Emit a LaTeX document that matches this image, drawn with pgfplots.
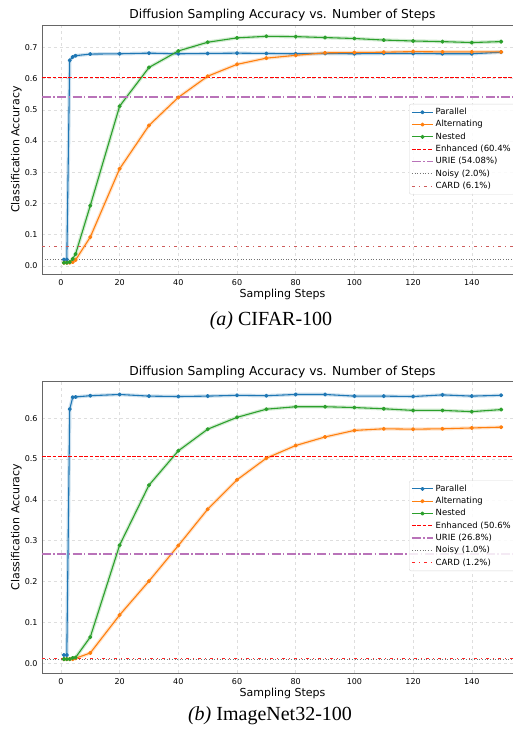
\documentclass[border=0pt]{standalone}
\usepackage{fontspec}
\setmainfont{DejaVu Sans}
\newfontfamily\capfont{Liberation Serif}
\usepackage{pgfplots}
\usepackage{pgfplotstable}
\pgfplotsset{compat=1.18}

\definecolor{tblue}{HTML}{1F77B4}
\definecolor{torange}{HTML}{FF7F0E}
\definecolor{tgreen}{HTML}{2CA02C}
\definecolor{urie}{HTML}{800080}
\definecolor{indred}{HTML}{CD5C5C}

% accuracy vs sampling steps
\pgfplotstableread{
x    par   alt   nes
1    0.020 0.010 0.010
2    0.020 0.010 0.010
3    0.659 0.010 0.012
4    0.670 0.012 0.022
5    0.674 0.019 0.038
10   0.679 0.092 0.193
20   0.680 0.311 0.512
30   0.682 0.450 0.636
40   0.680 0.540 0.689
50   0.681 0.608 0.717
60   0.682 0.646 0.731
70   0.681 0.666 0.736
80   0.680 0.675 0.735
90   0.681 0.683 0.732
100  0.680 0.684 0.729
110  0.681 0.685 0.724
120  0.681 0.687 0.721
130  0.680 0.686 0.719
140  0.680 0.686 0.716
150  0.685 0.686 0.719
}\cifar

\pgfplotstableread{
x    par   alt   nes
1    0.020 0.010 0.010
2    0.020 0.010 0.010
3    0.622 0.010 0.010
4    0.651 0.010 0.013
5    0.652 0.012 0.014
10   0.655 0.025 0.064
20   0.658 0.118 0.289
30   0.654 0.201 0.436
40   0.653 0.288 0.520
50   0.654 0.377 0.573
60   0.656 0.449 0.602
70   0.655 0.502 0.622
80   0.658 0.533 0.628
90   0.658 0.554 0.628
100  0.654 0.570 0.626
110  0.654 0.574 0.623
120  0.653 0.573 0.619
130  0.657 0.574 0.619
140  0.654 0.576 0.616
150  0.656 0.578 0.621
}\imnet

\pgfplotsset{
  common/.style={
    scale only axis, width=481pt,
    xmin=-6.45, xmax=157.45,
    xtick={0,20,40,60,80,100,120,140},
    grid=major, grid style={dashed, black!13, line width=0.5pt},
    axis line style={black!60, line width=0.8pt},
    major tick length=0pt,
    tick label style={font=\fontsize{8}{9}\selectfont},
    /pgf/number format/assume math mode=true,
    yticklabel style={/pgf/number format/fixed, /pgf/number format/fixed zerofill,
      /pgf/number format/precision=1, anchor=east, inner sep=0pt, xshift=-4.3pt},
    xticklabel style={anchor=base, yshift=-11.6pt, inner sep=0pt},
    title={Diffusion Sampling Accuracy vs. Number of Steps},
    title style={font=\fontsize{12.3}{14}\selectfont, at={(0.5,1)}, anchor=base, yshift=0pt},
    xlabel={Sampling Steps}, ylabel={Classification Accuracy},
    label style={font=\fontsize{11}{13}\selectfont},
    xlabel style={at={(axis description cs:0.5,0)}, anchor=base, yshift=-23.5pt},
    ylabel style={at={(axis description cs:-0.0468,0.5)}, anchor=base},
    legend cell align=left,
    legend style={anchor=north west, font=\fontsize{8.5}{10}\selectfont,
      draw=black!15, fill=white, fill opacity=0.85, draw opacity=1, text opacity=1,
      rounded corners=2pt, inner sep=2pt, row sep=0pt,
      nodes={inner sep=2pt, text height=6.5pt, text depth=1.8pt}},
    legend image code/.code={\draw[mark repeat=2,mark phase=2]
      plot coordinates {(0pt,0pt) (10.5pt,0pt) (21pt,0pt)};},
  },
  band/.style={line width=3.5pt, opacity=0.22, no markers, forget plot},
  ser/.style={line width=1.1pt, mark=*, mark size=1.5pt, line join=round},
  enh/.style={red, line width=1.2pt, dash pattern=on 3.7pt off 1.6pt},
  uri/.style={urie!55, line width=1.5pt, dash pattern=on 9pt off 2.4pt on 1.5pt off 2.4pt},
  noi/.style={black!55, line width=1pt, dash pattern=on 1pt off 1.65pt},
}

\begin{document}
\begin{tikzpicture}
\begin{axis}[common, at={(42pt,455pt)}, anchor=south west, height=249pt,
  ymin=-0.0263, ymax=0.7723, ytick={0,0.1,0.2,0.3,0.4,0.5,0.6,0.7},
  legend style={at={(0.763,0.683)}}]
\addplot[band, tblue] table[x=x, y=par] {\cifar};
\addplot[band, torange] table[x=x, y=alt] {\cifar};
\addplot[band, tgreen] table[x=x, y=nes] {\cifar};
\addplot[ser, tblue] table[x=x, y=par] {\cifar};
\addplot[ser, torange] table[x=x, y=alt] {\cifar};
\addplot[ser, tgreen] table[x=x, y=nes] {\cifar};
\addplot[enh] coordinates {(-6.45,0.604) (157.45,0.604)};
\addplot[uri] coordinates {(-6.45,0.5408) (157.45,0.5408)};
\addplot[noi] coordinates {(-6.45,0.02) (157.45,0.02)};
\addplot[indred, line width=1pt, dash pattern=on 3pt off 4pt on 1pt off 4pt] coordinates {(-6.45,0.061) (157.45,0.061)};
\legend{Parallel, Alternating, Nested, Enhanced (60.4\%, URIE (54.08\%), Noisy (2.0\%), CARD (6.1\%)}
\end{axis}

\begin{axis}[common, at={(42pt,56pt)}, anchor=south west, height=292pt,
  ymin=-0.024, ymax=0.691, ytick={0,0.1,0.2,0.3,0.4,0.5,0.6},
  legend style={at={(0.763,0.659)}}]
\addplot[band, tblue] table[x=x, y=par] {\imnet};
\addplot[band, torange] table[x=x, y=alt] {\imnet};
\addplot[band, tgreen] table[x=x, y=nes] {\imnet};
\addplot[ser, tblue] table[x=x, y=par] {\imnet};
\addplot[ser, torange] table[x=x, y=alt] {\imnet};
\addplot[ser, tgreen] table[x=x, y=nes] {\imnet};
\addplot[enh] coordinates {(-6.45,0.506) (157.45,0.506)};
\addplot[uri] coordinates {(-6.45,0.268) (157.45,0.268)};
\addplot[noi] coordinates {(-6.45,0.010) (157.45,0.010)};
\addplot[red!85, line width=1pt, dash pattern=on 3pt off 4pt on 1pt off 4pt] coordinates {(-6.45,0.012) (157.45,0.012)};
\legend{Parallel, Alternating, Nested, Enhanced (50.6\%, URIE (26.8\%), Noisy (1.0\%), CARD (1.2\%)}
\end{axis}

\node[font=\capfont\fontsize{20}{24}\selectfont] at (271pt,408pt) {\textit{(a)} CIFAR-100};
\node[font=\capfont\fontsize{20}{24}\selectfont] at (270pt,13pt) {\textit{(b)} ImageNet32-100};
\pgfresetboundingbox
\path[use as bounding box] (0,0) rectangle (513pt,729pt);
\end{tikzpicture}
\end{document}
